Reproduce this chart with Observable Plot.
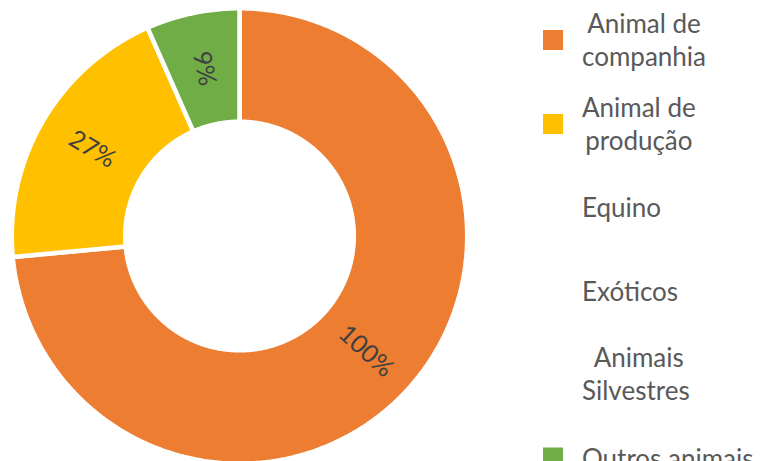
<!DOCTYPE html>
<html>
<head>
<meta charset="utf-8">
<script src="https://cdn.jsdelivr.net/npm/d3@7"></script>
<script src="https://cdn.jsdelivr.net/npm/@observablehq/plot@0.6"></script>
<style>
  html, body { margin: 0; padding: 0; background: #fff; }
  #wrap { position: relative; width: 767px; height: 461px; overflow: hidden; font-family: Lato, "Open Sans", sans-serif; }
  #chart { position: absolute; left: 0; top: 0; }
  .leg-item { position: absolute; left: 543px; display: flex; align-items: center; transform: translateY(-50%); }
  .leg-swatch { width: 20px; height: 20px; margin-right: 19px; flex: none; }
  .leg-text { font-size: 26px; line-height: 33px; color: #595959; text-align: center; white-space: pre; }
</style>
</head>
<body>
<div id="wrap">
  <div id="chart"></div>
  <div id="legend"></div>
</div>
<script>
// Data
const categories = ["Animal de companhia", "Animal de produção", "Equino", "Exóticos", "Animais Silvestres", "Outros animais"];
const values = [100, 27, 0, 0, 0, 9];
const colors = ["#ED7D31", "#FFC000", "#A5A5A5", "#4472C4", "#5B9BD5", "#70AD47"];
const legendLabels = ["Animal de\ncompanhia", "Animal de\nprodução", "Equino", "Exóticos", " Animais\nSilvestres", "Outros animais"];

const data = categories.map((c, i) => ({category: c, value: values[i]}));
const innerRatio = 0.502;
const arcs = d3.pie().sort(null).value(d => d.value)(data);

// polygon points per slice (data space, unit radius)
const pts = [];
const labels = [];
arcs.forEach(a => {
  if (a.data.value <= 0) return;
  const n = Math.max(8, Math.ceil((a.endAngle - a.startAngle) / 0.01));
  const ring = [];
  for (let k = 0; k <= n; k++) {
    const t = a.startAngle + (a.endAngle - a.startAngle) * k / n;
    ring.push({category: a.data.category, x: Math.sin(t), y: Math.cos(t)});
  }
  for (let k = n; k >= 0; k--) {
    const t = a.startAngle + (a.endAngle - a.startAngle) * k / n;
    ring.push({category: a.data.category, x: Math.sin(t) * innerRatio, y: Math.cos(t) * innerRatio});
  }
  ring.push({...ring[0]});
  pts.push(...ring);
  const mid = (a.startAngle + a.endAngle) / 2;
  const rm = (1 + innerRatio) / 2;
  let rot = Math.atan2(-Math.cos(mid), Math.sin(mid)) * 180 / Math.PI;
  if (rot > 90) rot -= 180;
  if (rot < -90) rot += 180;
  labels.push({x: Math.sin(mid) * rm, y: Math.cos(mid) * rm, rotate: rot, text: `${a.data.value}%`});
});

const chart = Plot.plot({
  width: 520,
  height: 461,
  x: {domain: [-1, 1], range: [11.3, 466.7], axis: null},
  y: {domain: [-1, 1], range: [463.2, 7.8], axis: null},
  color: {domain: categories, range: colors},
  style: {background: "white", overflow: "visible"},
  marks: [
    Plot.line(pts, {x: "x", y: "y", z: "category", fill: "category", stroke: "white", strokeWidth: 4.5, curve: "linear", strokeLinejoin: "miter"}),
    Plot.text(labels, {x: "x", y: "y", text: "text", rotate: "rotate", fill: "#404040", fontSize: 25, fontFamily: "Lato, sans-serif"})
  ]
});
document.getElementById("chart").appendChild(chart);

// Legend (HTML)
const legend = document.getElementById("legend");
const legendCenters0 = 40, legendStep = 83.5;
categories.forEach((c, i) => {
  const item = document.createElement("div");
  item.className = "leg-item";
  item.style.top = (legendCenters0 + i * legendStep) + "px";
  const sw = document.createElement("div");
  sw.className = "leg-swatch";
  sw.style.background = values[i] > 0 ? colors[i] : "transparent";
  const tx = document.createElement("div");
  tx.className = "leg-text";
  tx.textContent = legendLabels[i];
  item.appendChild(sw);
  item.appendChild(tx);
  legend.appendChild(item);
});
</script>
</body>
</html>
